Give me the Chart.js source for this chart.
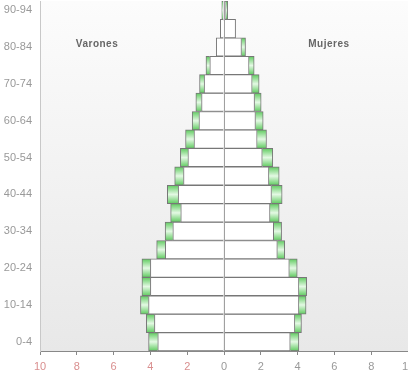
<!DOCTYPE html>
<html>
<head>
<meta charset="utf-8">
<script src="https://cdn.jsdelivr.net/npm/chart.js@4"></script>
<style>
  html, body { margin: 0; padding: 0; background: #fff; }
  #wrap { width: 408px; height: 370px; }
</style>
</head>
<body>
<div id="wrap"><canvas id="pyr"></canvas></div>
<script>
// Age groups, bottom to top
const ageGroups = ['0-4', '5-9', '10-14', '15-19', '20-24', '25-29', '30-34', '35-39',
  '40-44', '45-49', '50-54', '55-59', '60-64', '65-69', '70-74', '75-79',
  '80-84', '85-89', '90-94'];

// Percent of population — inner (white) bar and outer end (green cap)
const varonesInner = [3.6, 3.78, 4.1, 4.0, 4.0, 3.19, 2.78, 2.35, 2.49, 2.2,
  1.96, 1.63, 1.36, 1.22, 1.08, 0.77, 0.42, 0.2, 0.05];
const varonesOuter = [4.1, 4.22, 4.54, 4.46, 4.46, 3.66, 3.2, 2.9, 3.08, 2.68,
  2.37, 2.09, 1.73, 1.53, 1.33, 0.98, 0.42, 0.2, 0.12];
const mujeresInner = [3.6, 3.85, 4.07, 4.07, 3.55, 2.9, 2.7, 2.5, 2.58, 2.44,
  2.08, 1.8, 1.71, 1.66, 1.53, 1.36, 0.95, 0.63, 0.1];
const mujeresOuter = [4.07, 4.21, 4.46, 4.49, 3.98, 3.3, 3.13, 3.0, 3.16, 3.0,
  2.65, 2.31, 2.13, 2.02, 1.91, 1.64, 1.17, 0.63, 0.2];

const xTicks = [-10, -8, -6, -4, -2, 0, 2, 4, 6, 8, 10];

const sideLabels = [
  { text: 'Varones', x: -6.9, row: '80-84' },
  { text: 'Mujeres', x: 5.7,  row: '80-84' },
];

// green cap: light band through the middle of each bar
function capFill(context) {
  const chart = context.chart;
  const y = chart.scales.y;
  if (!chart.chartArea || !y) return '#9fe09f';
  const yc = y.getPixelForValue(context.dataIndex);
  const h = Math.abs(y.getPixelForValue(1) - y.getPixelForValue(0));
  const g = chart.ctx.createLinearGradient(0, yc - h / 2, 0, yc + h / 2);
  g.addColorStop(0, '#5fcb5f');
  g.addColorStop(0.5, '#e4f9e4');
  g.addColorStop(1, '#5fcb5f');
  return g;
}

const plotBg = {
  id: 'plotBg',
  beforeDraw(chart) {
    const { ctx, chartArea: a } = chart;
    const g = ctx.createLinearGradient(0, a.top, 0, a.bottom);
    g.addColorStop(0, '#fcfcfc');
    g.addColorStop(1, '#e8e8e8');
    ctx.save();
    ctx.fillStyle = g;
    ctx.fillRect(a.left, a.top, a.right - a.left, a.bottom - a.top);
    ctx.restore();
  },
  afterDatasetsDraw(chart) {
    const { ctx, chartArea: a, scales: { x, y } } = chart;
    ctx.save();
    // zero line over the bars
    const x0 = Math.round(x.getPixelForValue(0)) + 0.5;
    ctx.strokeStyle = '#a0a0a0';
    ctx.lineWidth = 1;
    ctx.beginPath();
    ctx.moveTo(x0, a.top);
    ctx.lineTo(x0, a.bottom);
    ctx.stroke();
    // side titles
    ctx.font = 'bold 10px "Liberation Sans", Arial, sans-serif';
    if ('letterSpacing' in ctx) ctx.letterSpacing = '0.5px';
    ctx.fillStyle = '#666';
    ctx.textAlign = 'center';
    ctx.textBaseline = 'middle';
    for (const s of sideLabels) {
      ctx.fillText(s.text, x.getPixelForValue(s.x), y.getPixelForValue(ageGroups.indexOf(s.row)) - 3);
    }
    ctx.restore();
  },
};

const diff = (outer, inner) => outer.map((v, i) => +(v - inner[i]).toFixed(2));

const barBase = {
  borderColor: '#777',
  borderWidth: 1,
  barPercentage: 1,
  categoryPercentage: 1,
};

new Chart(document.getElementById('pyr'), {
  type: 'bar',
  data: {
    labels: ageGroups,
    datasets: [
      { ...barBase, label: 'Varones', data: varonesInner.map((v) => -v), backgroundColor: '#fff' },
      { ...barBase, label: 'Varones cap', data: diff(varonesOuter, varonesInner).map((v) => -v), backgroundColor: capFill },
      { ...barBase, label: 'Mujeres', data: mujeresInner, backgroundColor: '#fff' },
      { ...barBase, label: 'Mujeres cap', data: diff(mujeresOuter, mujeresInner), backgroundColor: capFill },
    ],
  },
  plugins: [plotBg],
  options: {
    indexAxis: 'y',
    responsive: true,
    maintainAspectRatio: false,
    animation: false,
    layout: { padding: { left: 4, top: 1, right: 0, bottom: 0 } },
    plugins: {
      legend: { display: false },
      tooltip: { enabled: false },
    },
    scales: {
      x: {
        stacked: true,
        min: -10,
        max: 10,
        afterBuildTicks: (scale) => { scale.ticks = xTicks.map((v) => ({ value: v })); },
        afterFit: (scale) => {
          scale.paddingRight = 0;
          scale.paddingLeft = 0;
          scale.height = 19;
        },
        border: { color: '#888' },
        grid: { drawOnChartArea: false, drawTicks: true, tickLength: 4, tickColor: '#888' },
        ticks: {
          padding: 5,
          font: { family: '"Liberation Sans", Arial, sans-serif', size: 11 },
          color: (c) => (c.tick && c.tick.value < 0 ? '#d98f8f' : '#999'),
          callback: (v) => Math.abs(v),
        },
      },
      y: {
        stacked: true,
        reverse: true,
        afterFit: (scale) => {
          scale.width = 36;
          scale.paddingTop = 0;
          scale.paddingBottom = 0;
        },
        border: { color: '#c8c8c8' },
        grid: { display: false, drawTicks: false },
        ticks: {
          autoSkip: false,
          padding: 8,
          font: { family: '"Liberation Sans", Arial, sans-serif', size: 11 },
          color: '#999',
          callback: (v, i) => (i % 2 === 0 ? ageGroups[i] : ''),
        },
      },
    },
  },
});
</script>
</body>
</html>
